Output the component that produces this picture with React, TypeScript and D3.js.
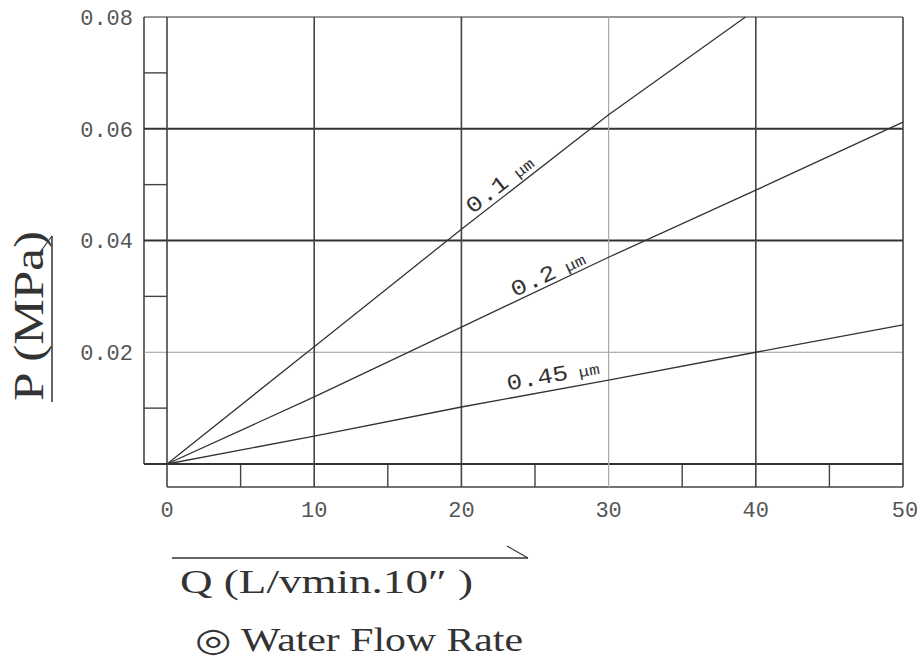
import React from "react";
import * as d3 from "d3";

const xTicks = [0, 10, 20, 30, 40, 50];
const xMinor = [5, 15, 25, 35, 45];
const yTicks = [0.02, 0.04, 0.06, 0.08];
const yMinor = [0.01, 0.03, 0.05, 0.07];

const q01 = [0, 10, 20, 30, 39.3];
const p01 = [0, 0.021, 0.042, 0.0625, 0.08];
const q02 = [0, 10, 20, 30, 40, 50];
const p02 = [0, 0.012, 0.0245, 0.037, 0.049, 0.0612];
const q045 = [0, 10, 20, 30, 40, 50];
const p045 = [0, 0.005, 0.0102, 0.015, 0.02, 0.0249];

const seriesNums = ["0.1", "0.2", "0.45"];
const unit = " μm";
const labelAt = [23.1, 26.2, 26.4];
const labelOffset = [5, 4, 8];
const labelLen = [80, 80, 94];

export default function App() {
  const W = 921, H = 662;
  const x = d3.scaleLinear().domain([0, 50]).range([167, 903]);
  const y = d3.scaleLinear().domain([0, 0.08]).range([464, 17]);
  const stripL = 144;
  const stripB = 487;
  const line = d3
    .line<[number, number]>()
    .x((d) => x(d[0]))
    .y((d) => y(d[1]));
  const series: [number, number][][] = [
    q01.map((q, i) => [q, p01[i]]),
    q02.map((q, i) => [q, p02[i]]),
    q045.map((q, i) => [q, p045[i]]),
  ];
  const interp = (qs: number[], ps: number[], q: number) => {
    for (let i = 0; i < qs.length - 1; i++) {
      if (q >= qs[i] && q <= qs[i + 1]) {
        const t = (q - qs[i]) / (qs[i + 1] - qs[i]);
        return { p: ps[i] + t * (ps[i + 1] - ps[i]), slope: (ps[i + 1] - ps[i]) / (qs[i + 1] - qs[i]) };
      }
    }
    return { p: ps[ps.length - 1], slope: 0 };
  };
  const qsAll = [q01, q02, q045];
  const psAll = [p01, p02, p045];
  const gridColor = (v: number, kind: "x" | "y") => {
    if (kind === "x") return v === 30 ? "#aaa" : "#444";
    return v === 0.02 ? "#999" : "#333";
  };
  const mono = "'Liberation Mono', 'DejaVu Sans Mono', monospace";
  const serif = "'Liberation Serif', 'DejaVu Serif', serif";
  return (
    <svg width={W} height={H} style={{ position: "absolute", left: 0, top: 0, background: "#fff" }}>
      <rect x={0} y={0} width={W} height={H} fill="#fff" />
      {/* left strip */}
      <line x1={stripL} x2={stripL} y1={y(0.08)} y2={y(0)} stroke="#444" strokeWidth={1.6} />
      {yMinor.map((v) => (
        <line key={"ym" + v} x1={stripL} x2={x(0)} y1={y(v)} y2={y(v)} stroke="#444" strokeWidth={1.4} />
      ))}
      {/* bottom strip */}
      <line x1={x(0)} x2={x(50)} y1={stripB} y2={stripB} stroke="#444" strokeWidth={1.6} />
      {xMinor.map((v) => (
        <line key={"xm" + v} x1={x(v)} x2={x(v)} y1={y(0)} y2={stripB} stroke="#444" strokeWidth={1.4} />
      ))}
      {/* horizontal grid */}
      {yTicks.map((v) => (
        <line
          key={"yg" + v}
          x1={stripL}
          x2={x(50)}
          y1={y(v)}
          y2={y(v)}
          stroke={gridColor(v, "y")}
          strokeWidth={v === 0.02 || v === 0.08 ? 1.2 : 2}
        />
      ))}
      <line x1={stripL} x2={x(50)} y1={y(0)} y2={y(0)} stroke="#333" strokeWidth={1.8} />
      {/* vertical grid */}
      {xTicks.map((v) => (
        <line
          key={"xg" + v}
          x1={x(v)}
          x2={x(v)}
          y1={y(0.08)}
          y2={stripB}
          stroke={gridColor(v, "x")}
          strokeWidth={v === 30 ? 1.2 : 1.6}
        />
      ))}
      {/* y tick labels */}
      {yTicks.map((v) => (
        <text
          key={"yl" + v}
          x={133}
          y={y(v)}
          dy="0.36em"
          textAnchor="end"
          fontFamily={mono}
          fontSize={22}
          fill="#555"
        >
          {v.toFixed(2)}
        </text>
      ))}
      {/* x tick labels */}
      {xTicks.map((v) => (
        <text
          key={"xl" + v}
          x={x(v) + (v === 50 ? 2 : 0)}
          y={509}
          dy="0.36em"
          textAnchor="middle"
          fontFamily={mono}
          fontSize={22}
          fill="#555"
        >
          {v}
        </text>
      ))}
      {/* series */}
      {series.map((s, i) => (
        <path key={"s" + i} d={line(s) || ""} fill="none" stroke="#333" strokeWidth={1.3} />
      ))}
      {/* series labels */}
      {seriesNums.map((num, i) => {
        const q = labelAt[i];
        const { p, slope } = interp(qsAll[i], psAll[i], q);
        const px = x(q);
        const py = y(p);
        const dxp = x(1) - x(0);
        const dyp = y(slope) - y(0);
        const ang = (Math.atan2(dyp, dxp) * 180) / Math.PI;
        const rad = (ang * Math.PI) / 180;
        const nx = Math.sin(rad) * labelOffset[i];
        const ny = -Math.cos(rad) * labelOffset[i];
        return (
          <text
            key={"lab" + i}
            transform={`translate(${px + nx},${py + ny}) rotate(${ang})`}
            textAnchor="middle"
            fontFamily={mono}
            fontSize={22}
            fill="#333"
            textLength={labelLen[i]}
            lengthAdjust="spacingAndGlyphs"
          >
            {num}
            <tspan fontSize={15}>{unit}</tspan>
          </text>
        );
      })}
      {/* y axis title */}
      <text
        transform="translate(43,316) rotate(-90)"
        textAnchor="middle"
        fontFamily={serif}
        fontSize={43}
        fill="#333"
        textLength={170}
        lengthAdjust="spacingAndGlyphs"
      >
        P (MPa)
      </text>
      <line x1={52} x2={52} y1={402} y2={236} stroke="#333" strokeWidth={1.5} />
      <line x1={38} x2={52} y1={255} y2={236} stroke="#333" strokeWidth={1.2} />
      {/* x axis title */}
      <line x1={172} x2={528} y1={558} y2={558} stroke="#333" strokeWidth={1.5} />
      <line x1={507} x2={528} y1={546} y2={558} stroke="#333" strokeWidth={1.2} />
      <text
        x={180}
        y={593}
        fontFamily={serif}
        fontSize={33}
        fill="#333"
        textLength={293}
        lengthAdjust="spacingAndGlyphs"
      >
        Q (L/vmin.10″ )
      </text>
      <text
        x={195}
        y={651}
        fontFamily={serif}
        fontSize={33}
        fill="#333"
        textLength={328}
        lengthAdjust="spacingAndGlyphs"
      >
        ◎ Water Flow Rate
      </text>
    </svg>
  );
}
